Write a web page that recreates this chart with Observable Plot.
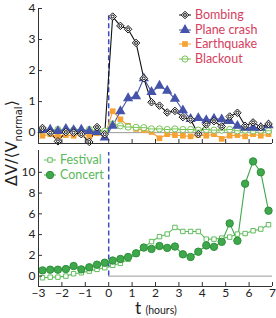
<!DOCTYPE html>
<html><head><meta charset="utf-8">
<script src="https://cdn.jsdelivr.net/npm/d3@7"></script>
<script src="https://cdn.jsdelivr.net/npm/@observablehq/plot@0.6"></script>
<style>
body{margin:0;background:#fff;}
#chart{position:relative;width:276px;height:318px;font-family:Lato,"Open Sans",sans-serif;overflow:hidden;}
#chart svg.plot{display:block;}
.leg{position:absolute;font-size:12.5px;line-height:14.5px;}
.leg div{display:flex;align-items:center;white-space:nowrap;}
.leg svg{margin-right:4px;}
#ylab{position:absolute;left:13px;top:143px;transform:translate(-50%,-50%) rotate(-90deg);white-space:nowrap;font-size:16px;color:#222;font-family:"DejaVu Sans",Lato,sans-serif;}
#ylab sub{font-size:10px;}
#xlab{position:absolute;left:135px;top:297px;line-height:normal;white-space:nowrap;color:#222;}
#xlab .t{font-size:17.5px;}
#xlab .h{font-size:10.5px;}
</style></head><body><div id="chart"></div>
<script>
// time bins (hours), centres of 20-minute intervals
const times = [-2.83,-2.5,-2.17,-1.83,-1.5,-1.17,-0.83,-0.5,-0.17,0.17,0.5,0.83,1.17,1.5,1.83,2.17,2.5,2.83,3.17,3.5,3.83,4.17,4.5,4.83,5.17,5.5,5.83,6.17,6.5,6.83];
const bombing = [0.15,0.0,-0.28,0.02,0.0,-0.05,-0.3,0.18,-0.05,3.74,3.44,3.33,2.89,1.75,0.98,0.87,0.65,0.7,0.5,0.42,-0.05,0.26,0.37,0.2,0.52,0.64,0.22,0.33,0.18,0.28];
const planeCrash = [0.08,0.1,0.05,0.12,0.08,0.1,0.05,0.02,-0.16,0.22,0.69,1.11,1.17,1.75,1.31,1.51,1.35,1.09,0.72,0.44,0.47,0.4,0.45,0.43,0.37,0.22,0.16,0.16,0.16,0.24];
const earthquake = [-0.1,-0.05,-0.12,-0.08,-0.1,-0.05,-0.1,-0.02,-0.12,0.69,0.43,0.22,0.12,0.08,0.02,-0.18,-0.05,-0.08,-0.1,-0.12,-0.08,-0.1,-0.05,-0.2,-0.1,-0.08,-0.12,-0.05,-0.1,-0.05];
const blackout = [0.08,0.05,0.1,0.05,0.08,0.05,0.1,0.05,0.05,0.28,0.22,0.18,0.17,0.16,0.12,0.12,0.1,0.12,0.1,0.1,0.08,0.1,0.08,0.08,0.1,0.06,0.08,0.06,0.08,0.06];
const festival = [-0.16,-0.1,-0.1,0,0.23,0.32,0.48,0.65,0.81,1.04,1.23,1.62,2.1,2.75,3.33,3.8,4.05,4.69,4.3,4.3,4.3,3.56,3.56,3.66,3.76,4.05,4.1,4.37,4.53,4.95];
const concert = [0.55,0.62,0.62,0.68,0.97,0.65,0.85,1.1,1.29,1.5,1.65,1.84,2.2,2.75,2.62,2.9,2.72,2.85,2.1,1.84,2.35,2.95,2.82,3.3,5.08,3.4,8.9,11.05,10.0,6.3];
const xTicks = [-3,-2,-1,0,1,2,3,4,5,6,7];
const yTicksTop = [0,1,2,3,4];
const yTicksBottom = [0,2,4,6,8,10];
const xDomain = [-3, 7];
const yDomainTop = [-0.35, 4];
const yDomainBottom = [-1, 12.1];
const eventTime = [0];
const baselineSpan = {from: 0, to: 7};
const dashTopEnd = 3.8, dashBottomEnd = 11.9;

const C = {bomb:"#111", plane:"#4653aa", quake:"#f6a234", black:"#78c456", fest:"#62bd5e", conc:"#3ea84a", concStroke:"#2f8f3c", dash:"#3a4cc0", legTop:"#d6405e", legBot:"#5cb85c"};

const mk = arr => times.map((t,i)=>({t, v: arr[i]}));

// custom symbols
const circleMinus = {draw(ctx,size){const r=Math.sqrt(size/Math.PI);ctx.moveTo(r,0);ctx.arc(0,0,r,0,2*Math.PI);ctx.moveTo(-r,0);ctx.lineTo(r,0);}};
const diamondDot = {draw(ctx,size){const r=Math.sqrt(size/Math.PI)*1.25;ctx.moveTo(0,-r);ctx.lineTo(r,0);ctx.lineTo(0,r);ctx.lineTo(-r,0);ctx.closePath();const q=r*0.38;ctx.moveTo(q,0);ctx.arc(0,0,q,0,2*Math.PI);}};

const series = [
  {name:"Earthquake", data:mk(earthquake), color:C.quake, symbol:"square", fill:C.quake, stroke:"none", r:3.2},
  {name:"Blackout", data:mk(blackout), color:C.black, symbol:circleMinus, fill:"white", stroke:C.black, r:3.1},
  {name:"Plane crash", data:mk(planeCrash), color:C.plane, symbol:"triangle", fill:C.plane, stroke:"none", r:3.8},
  {name:"Bombing", data:mk(bombing), color:C.bomb, symbol:diamondDot, fill:"white", stroke:C.bomb, r:3.0}
];
const legendOrder = ["Bombing","Plane crash","Earthquake","Blackout"];
const seriesBottom = [
  {name:"Festival", data:mk(festival), color:C.fest, symbol:"square", fill:"white", stroke:C.fest, r:2.5},
  {name:"Concert", data:mk(concert), color:C.conc, symbol:"circle", fill:C.conc, stroke:C.concStroke, r:3.7}
];

const baseStyle = {fontSize:"12px", fontFamily:"Lato, 'Open Sans', sans-serif", color:"#222", background:"transparent", overflow:"visible"};

function seriesMarks(list){
  const m = [];
  for (const s of list) m.push(Plot.line(s.data,{x:"t",y:"v",stroke:s.color,strokeWidth:1.1}));
  for (const s of list) m.push(Plot.dot(s.data,{x:"t",y:"v",symbol:()=>s.symbol,r:s.r,fill:s.fill,stroke:s.stroke,strokeWidth:1}));
  return m;
}

const topPlot = Plot.plot({
  width:276, height:147, marginTop:8, marginBottom:4, marginLeft:38, marginRight:4,
  style:baseStyle,
  x:{domain:xDomain}, y:{domain:yDomainTop},
  symbol:{type:"identity"},
  marks:[
    Plot.ruleY([0],{x1:baselineSpan.from,x2:baselineSpan.to,stroke:"#9a9a9a",strokeWidth:1}),
    Plot.ruleX(eventTime,{y1:0,y2:dashTopEnd,stroke:C.dash,strokeWidth:1.5,strokeDasharray:"5,3"}),
    ...seriesMarks(series),
    Plot.ruleX([xDomain[0]],{stroke:"#333",strokeWidth:1}),
    Plot.ruleY([yDomainTop[0]],{stroke:"#333",strokeWidth:1}),
    Plot.axisY(yTicksTop,{tickSize:-4,tickPadding:7,label:null,stroke:"#333"}),
    Plot.axisX(xTicks,{tickSize:-4,tickFormat:()=>"",label:null,stroke:"#333"})
  ]
});

const bottomPlot = Plot.plot({
  width:276, height:159, marginTop:3, marginBottom:20, marginLeft:38, marginRight:4,
  style:baseStyle,
  x:{domain:xDomain}, y:{domain:yDomainBottom},
  symbol:{type:"identity"},
  marks:[
    Plot.ruleY([0],{x1:baselineSpan.from,x2:baselineSpan.to,stroke:"#9a9a9a",strokeWidth:1}),
    Plot.ruleX(eventTime,{y1:0,y2:dashBottomEnd,stroke:C.dash,strokeWidth:1.5,strokeDasharray:"5,3"}),
    ...seriesMarks(seriesBottom),
    Plot.ruleX([xDomain[0]],{stroke:"#333",strokeWidth:1}),
    Plot.ruleY([yDomainBottom[0]],{stroke:"#333",strokeWidth:1}),
    Plot.axisY(yTicksBottom,{tickSize:-4,tickPadding:7,label:null,stroke:"#333"}),
    Plot.axisX(xTicks,{tickSize:-4,tickPadding:6,label:null,stroke:"#333"})
  ]
});

const chart = document.getElementById("chart");
chart.appendChild(topPlot);
chart.appendChild(bottomPlot);

function markerSvg(s){
  const svg = d3.create("svg").attr("width",12).attr("height",12);
  const sym = typeof s.symbol === "string" ? ({square:d3.symbolSquare,triangle:d3.symbolTriangle,circle:d3.symbolCircle})[s.symbol] : s.symbol;
  svg.append("line").attr("x1",0).attr("x2",12).attr("y1",6).attr("y2",6).attr("stroke",s.color).attr("stroke-width",1);
  svg.append("path").attr("transform","translate(6,6)").attr("d",d3.symbol(sym, Math.PI*s.r*s.r)()).attr("fill",s.fill).attr("stroke",s.stroke);
  return svg.node();
}
function legend(list, names, color, left, topPx){
  const box = document.createElement("div");
  box.className = "leg"; box.style.left = left+"px"; box.style.top = topPx+"px"; box.style.color = color;
  for (const n of names){
    const s = list.find(d=>d.name===n);
    const row = document.createElement("div");
    row.appendChild(markerSvg(s));
    row.appendChild(document.createTextNode(n));
    box.appendChild(row);
  }
  chart.appendChild(box);
}
legend(series, legendOrder, C.legTop, 179, 8);
legend(seriesBottom, ["Festival","Concert"], C.legBot, 44, 153);

const yl = document.createElement("div"); yl.id="ylab";
yl.innerHTML = "ΔV/⟨V<sub>normal</sub>⟩";
chart.appendChild(yl);
const xl = document.createElement("div"); xl.id="xlab";
xl.innerHTML = '<span class="t">t</span> <span class="h">(hours)</span>';
chart.appendChild(xl);
</script></body></html>
